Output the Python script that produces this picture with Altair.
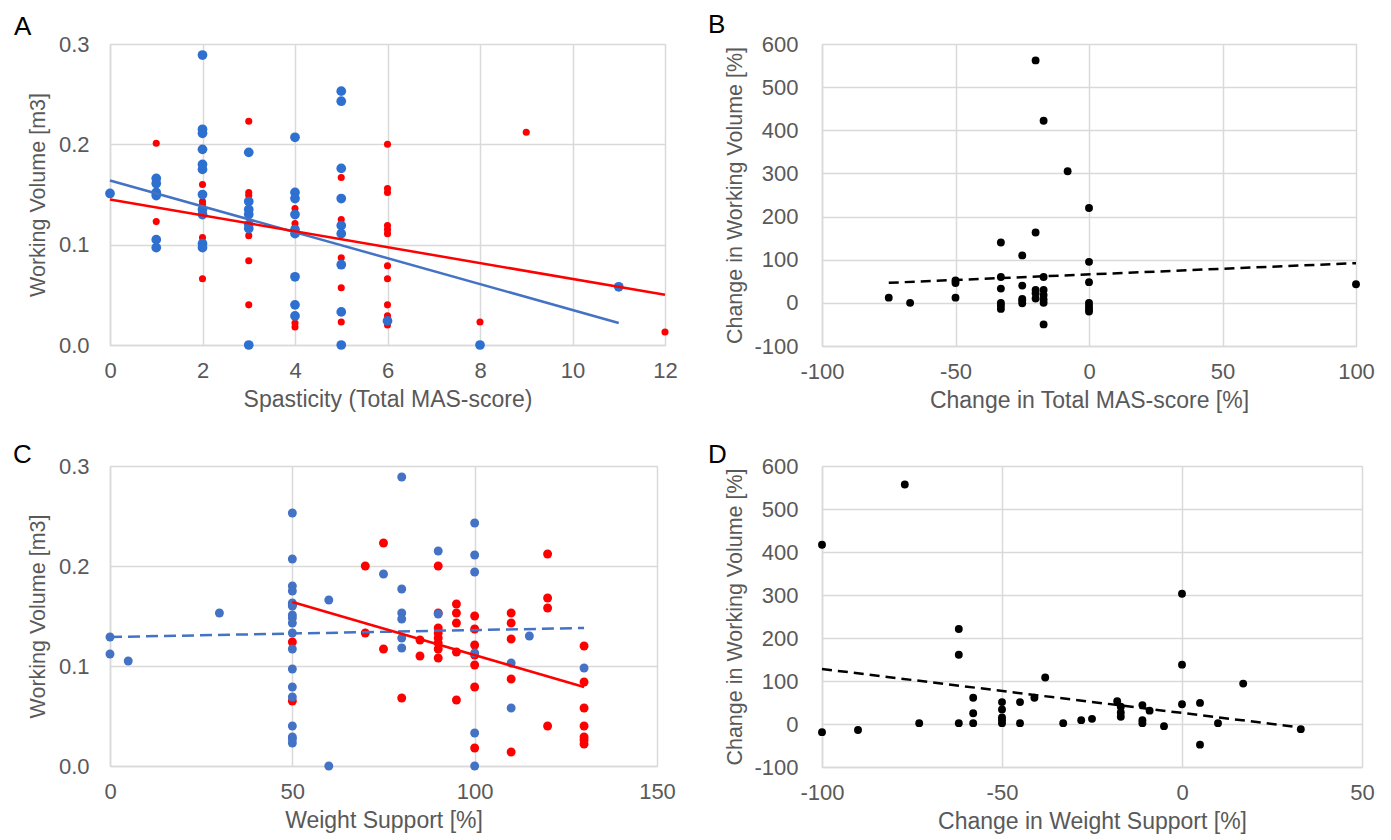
import altair as alt
import pandas as pd

# ---------------- data ----------------
# Panel A: Spasticity (Total MAS-score) vs Working Volume [m3]
A_blue_x = [0,
            1, 1, 1, 1, 1, 1,
            2, 2, 2, 2, 2, 2, 2, 2, 2, 2, 2,
            3, 3, 3, 3, 3, 3, 3,
            4, 4, 4, 4, 4, 4, 4, 4, 4,
            5, 5, 5, 5, 5, 5, 5, 5, 5,
            6, 8, 11]
A_blue_y = [0.151,
            0.166, 0.161, 0.152, 0.149, 0.105, 0.097,
            0.289, 0.215, 0.211, 0.195, 0.180, 0.175, 0.150, 0.135, 0.130, 0.101, 0.097,
            0.192, 0.143, 0.135, 0.130, 0.120, 0.116, 0.0,
            0.207, 0.152, 0.146, 0.130, 0.115, 0.111, 0.068, 0.040, 0.029,
            0.253, 0.243, 0.176, 0.146, 0.119, 0.111, 0.080, 0.033, 0.0,
            0.024, 0.0, 0.058]
A_red_x = [1, 1,
           2, 2, 2, 2, 2, 2,
           3, 3, 3, 3, 3, 3,
           4, 4, 4, 4, 4,
           5, 5, 5, 5, 5, 5,
           6, 6, 6, 6, 6, 6, 6, 6, 6, 6, 6,
           8, 9, 12]
A_red_y = [0.201, 0.123,
           0.160, 0.143, 0.140, 0.130, 0.107, 0.066,
           0.223, 0.152, 0.149, 0.109, 0.084, 0.040,
           0.136, 0.121, 0.117, 0.022, 0.018,
           0.167, 0.125, 0.120, 0.087, 0.057, 0.023,
           0.200, 0.156, 0.152, 0.119, 0.115, 0.111, 0.079, 0.066, 0.040, 0.029, 0.020,
           0.023, 0.212, 0.013]
A_blue_trend_x = [0, 11]
A_blue_trend_y = [0.164, 0.022]
A_red_trend_x = [0, 12]
A_red_trend_y = [0.145, 0.050]

# Panel B: Change in Total MAS-score [%] vs Change in Working Volume [%]
B_x = [-75, -67, -50, -50, -50,
       -33, -33, -33, -33, -33, -33,
       -25, -25, -25, -25, -25,
       -20, -20, -20, -20, -20,
       -17, -17, -17, -17, -17, -17, -17,
       -8, 0, 0, 0, 0, 0, 0, 0, 100]
B_y = [12, 0, 52, 46, 12,
       140, 60, 33, 0, -6, -14,
       110, 40, 9, 5, -1,
       562, 163, 30, 22, 10,
       422, 60, 30, 18, 8, 0, -50,
       305, 220, 95, 48, 0, -7, -14, -20, 43]
B_trend_x = [-75, 100]
B_trend_y = [46.5, 92]

# Panel C: Weight Support [%] vs Working Volume [m3]
C_blue_x = [0, 0, 5, 30,
            50, 50, 50, 50, 50, 50, 50, 50, 50, 50, 50, 50, 50, 50, 50, 50, 50, 50,
            60, 60, 75,
            80, 80, 80, 80, 80, 80,
            90, 90,
            100, 100, 100, 100, 100, 100,
            110, 110, 115, 130]
C_blue_y = [0.129, 0.112, 0.105, 0.153,
            0.253, 0.207, 0.180, 0.175, 0.163, 0.160, 0.151, 0.148, 0.143, 0.133, 0.117,
            0.097, 0.079, 0.069, 0.040, 0.029, 0.027, 0.023,
            0.166, 0.0, 0.192,
            0.289, 0.177, 0.153, 0.147, 0.128, 0.118,
            0.215, 0.152,
            0.243, 0.211, 0.194, 0.113, 0.033, 0.0,
            0.103, 0.058, 0.130, 0.098]
C_red_x = [50, 50, 50, 70, 70, 75, 75, 80, 85, 85,
           90, 90, 90, 90, 90, 90, 90, 90,
           95, 95, 95, 95, 95,
           100, 100, 100, 100, 100, 100, 100,
           110, 110, 110, 110, 110,
           120, 120, 120, 120,
           130, 130, 130, 130, 130, 130, 130]
C_red_y = [0.161, 0.124, 0.065, 0.200, 0.133, 0.223, 0.117, 0.068, 0.126, 0.110,
           0.200, 0.153, 0.138, 0.133, 0.128, 0.123, 0.117, 0.108,
           0.162, 0.153, 0.143, 0.114, 0.066,
           0.150, 0.137, 0.121, 0.111, 0.101, 0.079, 0.018,
           0.153, 0.143, 0.127, 0.087, 0.014,
           0.212, 0.168, 0.158, 0.040,
           0.120, 0.084, 0.058, 0.040, 0.029, 0.026, 0.022]
C_blue_trend_x = [0, 130]
C_blue_trend_y = [0.129, 0.138]
C_red_trend_x = [50, 130]
C_red_trend_y = [0.164, 0.079]

# Panel D: Change in Weight Support [%] vs Change in Working Volume [%]
D_x = [-100, -100, -90, -77, -73, -62, -62, -62, -58, -58, -58,
       -50, -50, -50, -50, -50, -45, -45, -41, -38, -33, -28, -25,
       -18, -17, -17, -17, -11, -11, -11, -9, -5,
       0, 0, 0, 5, 5, 10, 17, 33]
D_y = [417, -19, -14, 557, 2, 221, 161, 2, 61, 25, 2,
       51, 34, 15, 9, 2, 51, 2, 61, 108, 2, 9, 12,
       53, 40, 27, 17, 44, 9, 2, 31, -5,
       303, 138, 46, 49, -48, 2, 94, -12]
D_trend_x = [-100, 33]
D_trend_y = [128, -8]

letters = ["A", "B", "C", "D"]

# tick values
A_xticks = [0, 2, 4, 6, 8, 10, 12]
vol_ticks = [0.0, 0.1, 0.2, 0.3]
B_xticks = [-100, -50, 0, 50, 100]
pct_ticks = [-100, 0, 100, 200, 300, 400, 500, 600]
C_xticks = [0, 50, 100, 150]
D_xticks = [-100, -50, 0, 50]

# ---------------- styling ----------------
FONT = "Liberation Sans"
GREY = "#595959"
GRID = "#d9d9d9"
BLUE_PT_A = "#2e70d0"
BLUE_PT_C = "#4472c4"
BLUE_LINE = "#4472c4"
RED = "#ff0000"
LAB = 22
TIT_X = 23
TIT_Y = 21.5


def make_axis(title, values, fmt_expr, lab_pad, title_pad, title_size):
    return alt.Axis(
        title=title, values=values, labelExpr=fmt_expr,
        grid=True, gridColor=GRID, gridWidth=1.5,
        domain=True, domainColor=GRID, domainWidth=1.5,
        ticks=False, labelOverlap=False, labelFlush=False,
        labelFont=FONT, labelFontSize=LAB, labelColor=GREY,
        titleFont=FONT, titleFontSize=title_size, titleColor=GREY, titleFontWeight="normal",
        labelPadding=lab_pad, titlePadding=title_pad,
    )


def scatter(df, xs, ys, color, size):
    return alt.Chart(df).mark_circle(size=size, opacity=1, color=color).encode(x=xs, y=ys)


def trend(df, xs, ys, color, dash=None, width=2.5):
    kw = dict(color=color, strokeWidth=width)
    if dash:
        kw["strokeDash"] = dash
    return alt.Chart(df).mark_line(**kw).encode(x=xs, y=ys)


def letter(ch, dx, dy):
    return alt.Chart(pd.DataFrame({"t": [ch]})).mark_text(
        align="left", baseline="alphabetic", font=FONT, fontSize=26, color="black"
    ).encode(text="t:N", x=alt.value(dx), y=alt.value(dy))


# ---------------- Panel A ----------------
ax_A_x = alt.X("x:Q", scale=alt.Scale(domain=[0, 12], nice=False, zero=False),
               axis=make_axis("Spasticity (Total MAS-score)", A_xticks, "toString(datum.value)", 15, 7, TIT_X))
ax_A_y = alt.Y("y:Q", scale=alt.Scale(domain=[0, 0.3], nice=False, zero=False),
               axis=make_axis("Working Volume [m3]", vol_ticks, "format(datum.value, '.1f')", 21, 9, TIT_Y))
dfA_b = pd.DataFrame({"x": A_blue_x, "y": A_blue_y})
dfA_r = pd.DataFrame({"x": A_red_x, "y": A_red_y})
dfA_bt = pd.DataFrame({"x": A_blue_trend_x, "y": A_blue_trend_y})
dfA_rt = pd.DataFrame({"x": A_red_trend_x, "y": A_red_trend_y})
panelA = alt.layer(
    scatter(dfA_r, ax_A_x, ax_A_y, RED, 50),
    scatter(dfA_b, ax_A_x, ax_A_y, BLUE_PT_A, 95),
    trend(dfA_bt, ax_A_x, ax_A_y, BLUE_LINE),
    trend(dfA_rt, ax_A_x, ax_A_y, RED),
    letter(letters[0], -96, -9),
).properties(width=555, height=301)

# ---------------- Panel B ----------------
ax_B_x = alt.X("x:Q", scale=alt.Scale(domain=[-100, 100], nice=False, zero=False),
               axis=make_axis("Change in Total MAS-score [%]", B_xticks, "toString(datum.value)", 15, 7, TIT_X))
ax_B_y = alt.Y("y:Q", scale=alt.Scale(domain=[-100, 600], nice=False, zero=False),
               axis=make_axis("Change in Working Volume [%]", pct_ticks, "toString(datum.value)", 24, 7, TIT_Y))
dfB = pd.DataFrame({"x": B_x, "y": B_y})
dfB_t = pd.DataFrame({"x": B_trend_x, "y": B_trend_y})
panelB = alt.layer(
    scatter(dfB, ax_B_x, ax_B_y, "black", 62),
    trend(dfB_t, ax_B_x, ax_B_y, "black", dash=[10, 6]),
    letter(letters[1], -114, -11),
).properties(width=534, height=302)

# ---------------- Panel C ----------------
ax_C_x = alt.X("x:Q", scale=alt.Scale(domain=[0, 150], nice=False, zero=False),
               axis=make_axis("Weight Support [%]", C_xticks, "toString(datum.value)", 15, 7, TIT_X))
ax_C_y = alt.Y("y:Q", scale=alt.Scale(domain=[0, 0.3], nice=False, zero=False),
               axis=make_axis("Working Volume [m3]", vol_ticks, "format(datum.value, '.1f')", 21, 9, TIT_Y))
dfC_b = pd.DataFrame({"x": C_blue_x, "y": C_blue_y})
dfC_r = pd.DataFrame({"x": C_red_x, "y": C_red_y})
dfC_bt = pd.DataFrame({"x": C_blue_trend_x, "y": C_blue_trend_y})
dfC_rt = pd.DataFrame({"x": C_red_trend_x, "y": C_red_trend_y})
panelC = alt.layer(
    scatter(dfC_r, ax_C_x, ax_C_y, RED, 80),
    scatter(dfC_b, ax_C_x, ax_C_y, BLUE_PT_C, 80),
    trend(dfC_bt, ax_C_x, ax_C_y, BLUE_LINE, dash=[12, 6]),
    trend(dfC_rt, ax_C_x, ax_C_y, RED),
    letter(letters[2], -97, -3),
).properties(width=547, height=300)

# ---------------- Panel D ----------------
ax_D_x = alt.X("x:Q", scale=alt.Scale(domain=[-100, 50], nice=False, zero=False),
               axis=make_axis("Change in Weight Support [%]", D_xticks, "toString(datum.value)", 15, 7, TIT_X))
ax_D_y = alt.Y("y:Q", scale=alt.Scale(domain=[-100, 600], nice=False, zero=False),
               axis=make_axis("Change in Working Volume [%]", pct_ticks, "toString(datum.value)", 24, 7, TIT_Y))
dfD = pd.DataFrame({"x": D_x, "y": D_y})
dfD_t = pd.DataFrame({"x": D_trend_x, "y": D_trend_y})
panelD = alt.layer(
    scatter(dfD, ax_D_x, ax_D_y, "black", 62),
    trend(dfD_t, ax_D_x, ax_D_y, "black", dash=[10, 6]),
    letter(letters[3], -114, -3),
).properties(width=540, height=301)

row1 = alt.hconcat(panelA, panelB, spacing=29).resolve_scale(x="independent", y="independent")
row2 = alt.hconcat(panelC, panelD, spacing=31).resolve_scale(x="independent", y="independent")
chart = alt.vconcat(row1, row2, spacing=28).properties(
    padding={"left": 4, "top": 3, "right": 5, "bottom": 5}
).configure_view(stroke=None).configure(background="white")

chart.save("out.html", embed_options={"renderer": "svg", "actions": False})
